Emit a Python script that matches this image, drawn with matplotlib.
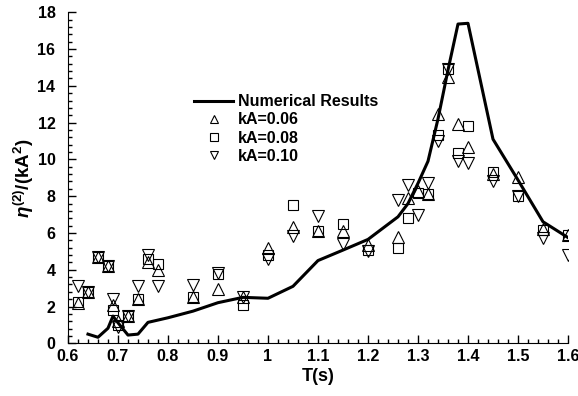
import matplotlib
matplotlib.use("Agg")
import matplotlib.pyplot as plt
from matplotlib.ticker import MultipleLocator

plt.rcParams.update({
    "font.family": "Liberation Sans",
    "font.weight": "bold",
    "mathtext.fontset": "custom",
    "mathtext.rm": "Liberation Sans:bold",
    "mathtext.it": "Liberation Sans:bold:italic",
    "mathtext.bf": "Liberation Sans:bold",
})

# numerical results
T_num = [0.64, 0.66, 0.68, 0.69, 0.70, 0.72, 0.74, 0.76, 0.80, 0.85, 0.90, 0.95,
         1.00, 1.05, 1.10, 1.15, 1.20, 1.26, 1.28, 1.30, 1.32, 1.34, 1.36, 1.38,
         1.40, 1.45, 1.50, 1.55, 1.60]
eta_num = [0.5, 0.33, 0.82, 1.48, 1.12, 0.45, 0.5, 1.14, 1.39, 1.75, 2.21, 2.5,
           2.45, 3.1, 4.5, 5.07, 5.65, 6.88, 7.6, 8.7, 9.9, 12.2, 14.86, 17.36,
           17.4, 11.1, 8.88, 6.61, 5.75]

# experiments
T_exp = [0.62, 0.64, 0.66, 0.68, 0.69, 0.70, 0.72, 0.74, 0.76, 0.78, 0.85, 0.90,
         0.95, 1.00, 1.05, 1.10, 1.15, 1.20, 1.26, 1.28, 1.30, 1.32, 1.34, 1.36,
         1.38, 1.40, 1.45, 1.50, 1.55, 1.60]
kA06 = [2.2, 2.8, 4.7, 4.2, 2.1, 1.2, 1.5, 2.4, 4.4, 4.0, 2.5, 2.95,
        2.5, 5.2, 6.3, 6.1, 6.1, 5.35, 5.8, 7.9, 8.3, 8.1, 12.45, 14.5,
        11.95, 10.7, 9.2, 9.05, 6.2, 5.9]
kA08 = [2.25, 2.8, 4.7, 4.2, 1.8, 1.0, 1.5, 2.4, 4.6, 4.3, 2.5, 3.75,
        2.1, 4.8, 7.5, 6.1, 6.5, 5.1, 5.2, 6.8, 8.2, 8.1, 11.35, 14.9,
        10.35, 11.8, 9.3, 8.0, 6.15, 5.9]
kA10 = [3.1, 2.8, 4.7, 4.2, 2.4, 0.9, 1.5, 3.1, 4.8, 3.1, 3.15, 3.8,
        2.5, 4.6, 5.85, 6.9, 5.4, 5.0, 7.8, 8.6, 7.0, 8.7, 11.0, 14.9,
        9.9, 9.8, 8.8, 8.0, 5.7, 4.8]

fig = plt.figure(figsize=(5.78, 3.96), dpi=100)
ax = fig.add_axes([0.1176, 0.133, 0.8651, 0.836])

ax.plot(T_num, eta_num, color="black", lw=2.2, label="Numerical Results", zorder=3)
mk = dict(ls="none", mfc="none", mec="black", mew=0.8)
ax.plot(T_exp, kA06, marker="^", ms=8, label="kA=0.06", **mk)
ax.plot(T_exp, kA08, marker="s", ms=7, label="kA=0.08", **mk)
ax.plot(T_exp, kA10, marker="v", ms=8, label="kA=0.10", **mk)

ax.set_xlim(0.6, 1.6)
ax.set_ylim(0, 18)
ax.xaxis.set_major_locator(MultipleLocator(0.1))
ax.xaxis.set_minor_locator(MultipleLocator(0.02))
ax.yaxis.set_major_locator(MultipleLocator(2))
ax.yaxis.set_minor_locator(MultipleLocator(0.4))
ax.xaxis.set_major_formatter(plt.FuncFormatter(lambda v, p: f"{v:g}"))
ax.tick_params(which="both", direction="in", labelsize=11.5, width=1)
ax.tick_params(which="major", length=6)
ax.tick_params(which="minor", length=3)
ax.tick_params(axis="y", pad=9)
ax.tick_params(axis="x", pad=4)
ax.spines["top"].set_visible(False)
ax.spines["right"].set_visible(False)

ax.set_xlabel("T(s)", fontsize=13, fontweight="bold", labelpad=3)
ax.set_ylabel(r"$\eta^{(2)}$/(kA$^{2}$)", fontsize=13.5, fontweight="bold", labelpad=1)

leg = ax.legend(loc="upper left", bbox_to_anchor=(0.24, 0.772), frameon=False,
                fontsize=11.5, handlelength=2.4, labelspacing=0.2,
                borderaxespad=0, handletextpad=0.35, markerscale=0.75)

fig.savefig("out.png", dpi=100)
